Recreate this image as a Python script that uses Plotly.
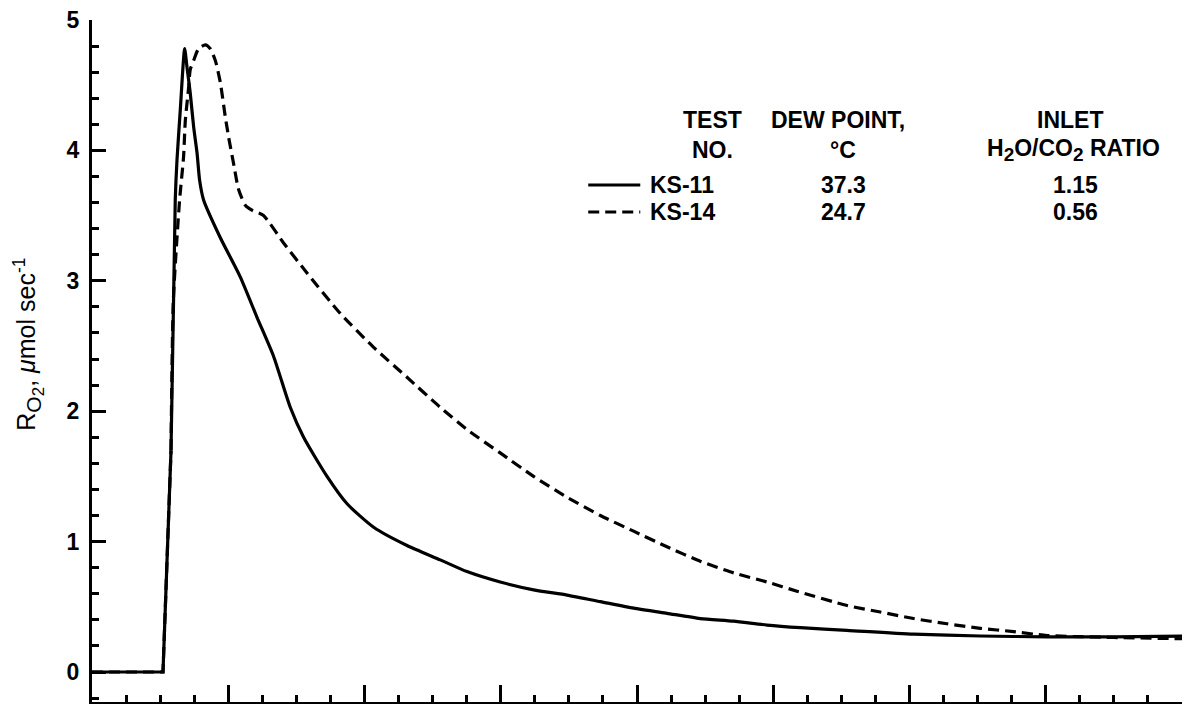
import plotly.graph_objects as go

# Oxygen generation rate, KS-11 (solid)
ks11_t = [0, 5.21, 5.80, 6.11, 6.24, 6.48, 6.80, 6.97, 7.21, 7.46, 7.71, 7.90, 8.19,
          9.42, 10.88, 12.11, 13.33, 14.55, 15.53, 17.25, 18.72, 20.67, 23.12, 25.56,
          27.52, 29.96, 32.41, 34.86, 37.31, 39.75, 42.20, 44.64, 47.09, 49.54, 51.99,
          55.41, 60.30, 65.20, 70.09, 74.98, 80.0]
ks11_r = [0, 0, 1.70, 3.62, 3.93, 4.31, 4.78, 4.64, 4.44, 4.18, 3.98, 3.77, 3.62,
          3.33, 3.03, 2.72, 2.42, 2.03, 1.80, 1.50, 1.29, 1.11, 0.97, 0.86,
          0.77, 0.69, 0.63, 0.59, 0.54, 0.49, 0.45, 0.41, 0.39, 0.36, 0.34,
          0.32, 0.29, 0.276, 0.27, 0.27, 0.275]

# Oxygen generation rate, KS-14 (dashed)
ks14_t = [0, 5.21, 5.80, 5.97, 6.43, 6.72, 6.85, 7.09, 7.21, 7.46, 7.82, 8.32, 8.68,
          9.05, 9.42, 9.78, 10.03, 10.39, 10.76, 11.25, 11.77, 12.59, 14.06, 15.78,
          18.22, 20.67, 23.12, 25.56, 27.52, 29.96, 32.41, 34.86, 37.31, 39.75, 42.20,
          44.64, 47.09, 49.54, 51.74, 55.41, 57.86, 60.30, 62.75, 65.20, 67.64, 70.09,
          74.96, 80.0]
ks14_r = [0, 0, 1.70, 2.85, 3.62, 3.95, 4.23, 4.48, 4.62, 4.69, 4.78, 4.81, 4.78,
          4.69, 4.52, 4.26, 4.10, 3.90, 3.70, 3.58, 3.54, 3.50, 3.29, 3.06,
          2.75, 2.49, 2.26, 2.03, 1.86, 1.68, 1.50, 1.34, 1.20, 1.08, 0.96,
          0.85, 0.76, 0.69, 0.62, 0.51, 0.46, 0.41, 0.37, 0.335, 0.31, 0.28,
          0.265, 0.255]

# Key table
test_no = ["KS-11", "KS-14"]
dew_point = ["37.3", "24.7"]
inlet_ratio = ["1.15", "0.56"]
line_dash = ["solid", "11px,6px"]

# the baseline and the start of the rise are straight segments;
# the rest of each record is drawn as a smooth curve
RISE_END = 2

FONT = "Liberation Sans"
INK = "black"

fig = go.Figure()
for t, r, dash in [(ks11_t, ks11_r, line_dash[0]), (ks14_t, ks14_r, line_dash[1])]:
    fig.add_trace(go.Scatter(x=t[:RISE_END + 1], y=r[:RISE_END + 1], mode="lines",
                             line=dict(color=INK, width=3.2, dash=dash)))
    fig.add_trace(go.Scatter(x=t[RISE_END:], y=r[RISE_END:], mode="lines",
                             line=dict(color=INK, width=3.2, dash=dash,
                                       shape="spline", smoothing=0.6)))

bold = dict(family=FONT, size=23, color=INK, weight="bold")


def sub(s):
    return f"<sub><span style='font-size:19px'>{s}</span></sub>"


ann = []
# column headings
hdr_y1, hdr_y2 = 4.233, 4.003
ann += [
    dict(x=45.53, y=hdr_y1, text="TEST"),
    dict(x=45.53, y=hdr_y2, text="NO."),
    dict(x=54.77, y=hdr_y1, text="DEW POINT,"),
    dict(x=55.14, y=hdr_y2, text="°C"),
    dict(x=71.80, y=hdr_y1, text="INLET"),
    dict(x=72.02, y=hdr_y2, text=f"H{sub('2')}O/CO{sub('2')} RATIO"),
]
row_y = [3.735, 3.528]
for i in range(2):
    ann.append(dict(x=40.83, y=row_y[i], text=test_no[i], xanchor="left"))
    ann.append(dict(x=55.14, y=row_y[i], text=dew_point[i]))
    ann.append(dict(x=72.17, y=row_y[i], text=inlet_ratio[i]))
    fig.add_shape(type="line", xref="x", yref="y", x0=36.42, x1=40.24,
                  y0=row_y[i], y1=row_y[i],
                  line=dict(color=INK, width=3, dash=line_dash[i]))

for a in ann:
    a.setdefault("xanchor", "center")
    a.update(xref="x", yref="y", showarrow=False, font=bold, yanchor="middle")

# rotated y-axis title
ann.append(dict(xref="paper", yref="paper", x=-0.058, y=0.525, showarrow=False,
                textangle=-90, xanchor="center", yanchor="middle",
                text="R<sub><span style='font-size:21px'>O</span>"
                     "<sub><span style='font-size:17px'>2</span></sub></sub>"
                     ", <i>μ</i>mol sec<sup>-1</sup>",
                font=dict(family=FONT, size=25, color=INK)))

fig.update_layout(
    width=1196, height=704,
    margin=dict(l=92, r=14, t=20, b=2),
    paper_bgcolor="white", plot_bgcolor="white",
    showlegend=False,
    annotations=ann,
    xaxis=dict(range=[0, 80], showgrid=False, zeroline=False,
               showline=True, linecolor=INK, linewidth=3,
               ticks="inside", tickvals=list(range(0, 81, 10)), ticklen=17,
               tickwidth=2.5, tickcolor=INK, showticklabels=False,
               minor=dict(ticks="inside", dtick=2.5, tick0=0, ticklen=7,
                          tickwidth=2.5, tickcolor=INK, showgrid=False)),
    yaxis=dict(range=[-0.23, 5], showgrid=False, zeroline=False,
               showline=True, linecolor=INK, linewidth=3,
               ticks="inside", tickvals=[0, 1, 2, 3, 4, 5], ticklen=14,
               tickwidth=2.5, tickcolor=INK, ticklabelstandoff=5,
               tickfont=dict(family=FONT, size=23, color=INK, weight="bold"),
               minor=dict(ticks="inside", dtick=0.2, tick0=0, ticklen=7,
                          tickwidth=2.5, tickcolor=INK, showgrid=False)),
)

fig.write_html("out.html")
